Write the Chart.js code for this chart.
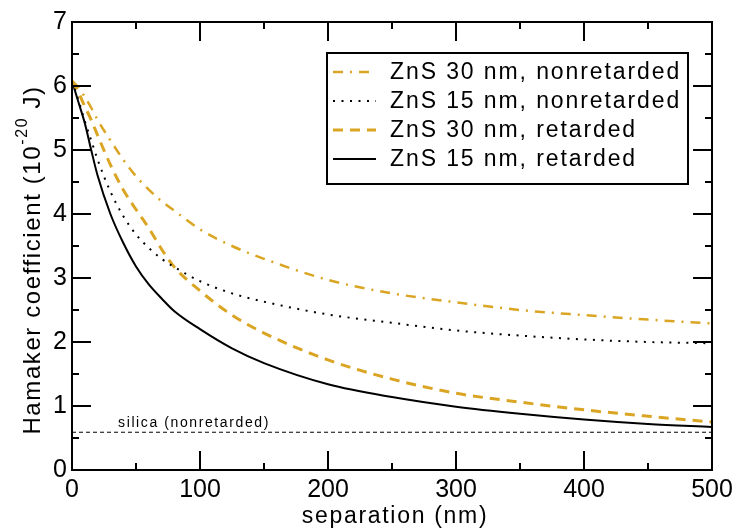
<!DOCTYPE html>
<html>
<head>
<meta charset="utf-8">
<script src="https://cdn.jsdelivr.net/npm/chart.js@4.4.0/dist/chart.umd.min.js"></script>
<style>
  html, body { margin: 0; padding: 0; background: #fff; }
</style>
</head>
<body>
<canvas id="hamakerChart" width="740" height="532"></canvas>
<script>
// separation in nm (shared x values for all curves)
const separation = [0, 5, 10, 15, 20, 30, 40, 50, 60, 70, 80, 100, 125, 150, 200, 250, 300, 350, 400, 450, 500];

// Hamaker coefficient, units of 1e-20 J
const zns30NonRet = [6.08, 5.98, 5.83, 5.66, 5.47, 5.15, 4.85, 4.59, 4.38, 4.2, 4.05, 3.76, 3.5, 3.3, 2.97, 2.76, 2.62, 2.5, 2.42, 2.35, 2.29];
const zns15NonRet = [6.08, 5.78, 5.45, 5.15, 4.85, 4.35, 3.97, 3.68, 3.47, 3.3, 3.17, 2.95, 2.76, 2.63, 2.43, 2.3, 2.18, 2.1, 2.04, 2.0, 1.98];
const zns30Ret = [6.08, 5.9, 5.68, 5.47, 5.23, 4.77, 4.38, 4.07, 3.78, 3.45, 3.17, 2.8, 2.42, 2.14, 1.72, 1.42, 1.2, 1.06, 0.94, 0.84, 0.75];
const zns15Ret = [6.08, 5.75, 5.42, 5.0, 4.6, 4.0, 3.55, 3.18, 2.9, 2.68, 2.48, 2.2, 1.9, 1.67, 1.34, 1.14, 0.99, 0.88, 0.79, 0.72, 0.67];

// silica reference level (nonretarded)
const silicaX = [0, 500];
const silicaY = [0.59, 0.59];

const seriesLabels = ['ZnS 30 nm, nonretarded', 'ZnS 15 nm, nonretarded', 'ZnS 30 nm, retarded', 'ZnS 15 nm, retarded'];
const silicaLabel = 'silica (nonretarded)';
const xTitle = 'separation (nm)';

const FONT = "'Liberation Sans', Arial, Helvetica, sans-serif";
const GOLD = 'rgb(219,165,36)';

function toPoints(xs, ys) {
    return xs.map((x, i) => ({ x: x, y: ys[i] }));
}

// box, inward ticks, legend and axis titles
const framePlugin = {
    id: 'frame',
    afterDatasetsDraw(chart) {
        const { ctx, chartArea: a, scales: { x, y } } = chart;
        ctx.save();
        ctx.strokeStyle = '#000';
        ctx.lineWidth = 2;
        ctx.setLineDash([]);
        ctx.strokeRect(a.left, a.top, a.right - a.left, a.bottom - a.top);

        ctx.beginPath();
        for (let v = 0; v <= 500; v += 50) {
            const px = Math.round(x.getPixelForValue(v));
            const len = v % 100 === 0 ? 19 : 7;
            ctx.moveTo(px, a.bottom); ctx.lineTo(px, a.bottom - len);
            ctx.moveTo(px, a.top); ctx.lineTo(px, a.top + len);
        }
        for (let v = 0; v <= 7; v += 0.5) {
            const py = Math.round(y.getPixelForValue(v));
            const len = v % 1 === 0 ? 19 : 7;
            ctx.moveTo(a.left, py); ctx.lineTo(a.left + len, py);
            ctx.moveTo(a.right, py); ctx.lineTo(a.right - len, py);
        }
        ctx.stroke();

        // silica label just above its line
        ctx.fillStyle = '#000';
        ctx.font = '14px ' + FONT;
        ctx.letterSpacing = '1.6px';
        ctx.textBaseline = 'alphabetic';
        ctx.textAlign = 'left';
        ctx.fillText(silicaLabel, x.getPixelForValue(36), y.getPixelForValue(silicaY[0]) - 5);

        // legend
        const box = { left: 327, top: 53, right: 688, bottom: 184 };
        ctx.lineWidth = 2;
        ctx.strokeRect(box.left, box.top, box.right - box.left, box.bottom - box.top);
        ctx.font = '23px ' + FONT;
        ctx.letterSpacing = '1.9px';
        ctx.textBaseline = 'middle';
        chart.data.datasets.forEach((ds, i) => {
            if (i >= seriesLabels.length) return;
            const rowY = 72 + i * 29;
            ctx.strokeStyle = ds.borderColor;
            ctx.lineWidth = ds.borderWidth;
            ctx.setLineDash(ds.borderDash || []);
            ctx.beginPath();
            ctx.moveTo(333, rowY);
            ctx.lineTo(376, rowY);
            ctx.stroke();
            ctx.setLineDash([]);
            ctx.fillText(ds.label, 390, rowY + 1);
        });

        // x title
        ctx.font = '23px ' + FONT;
        ctx.letterSpacing = '1.7px';
        ctx.textAlign = 'center';
        ctx.textBaseline = 'alphabetic';
        ctx.fillText(xTitle, 395, 523);

        // y title with superscript
        const mainFont = '24px ' + FONT;
        const supFont = '16px ' + FONT;
        const part1 = 'Hamaker coefficient (10';
        const part2 = '-20';
        const part3 = ' J)';
        ctx.letterSpacing = '1.6px';
        ctx.font = mainFont;
        const w1 = ctx.measureText(part1).width;
        const w3 = ctx.measureText(part3).width;
        ctx.font = supFont;
        const w2 = ctx.measureText(part2).width;
        const total = w1 + w2 + w3;
        ctx.translate(40, 260);
        ctx.rotate(-Math.PI / 2);
        ctx.textAlign = 'left';
        let cx = -total / 2;
        ctx.font = mainFont;
        ctx.fillText(part1, cx, 0);
        cx += w1;
        ctx.font = supFont;
        ctx.fillText(part2, cx, -13);
        cx += w2;
        ctx.font = mainFont;
        ctx.fillText(part3, cx, 0);
        ctx.restore();
    }
};

const ctx = document.getElementById('hamakerChart').getContext('2d');
const chart = new Chart(ctx, {
    type: 'line',
    data: {
        datasets: [
            {
                label: seriesLabels[0],
                data: toPoints(separation, zns30NonRet),
                borderColor: GOLD,
                borderWidth: 2.5,
                borderDash: [10, 7, 2, 7],
            },
            {
                label: seriesLabels[1],
                data: toPoints(separation, zns15NonRet),
                borderColor: '#000',
                borderWidth: 2,
                borderDash: [2, 6.5],
            },
            {
                label: seriesLabels[2],
                data: toPoints(separation, zns30Ret),
                borderColor: GOLD,
                borderWidth: 3,
                borderDash: [10, 7],
            },
            {
                label: seriesLabels[3],
                data: toPoints(separation, zns15Ret),
                borderColor: '#000',
                borderWidth: 2,
            },
            {
                label: silicaLabel,
                data: toPoints(silicaX, silicaY),
                borderColor: '#000',
                borderWidth: 1,
                borderDash: [4, 3],
            }
        ]
    },
    options: {
        responsive: false,
        animation: false,
        devicePixelRatio: 1,
        elements: {
            point: { radius: 0 },
            line: { cubicInterpolationMode: 'monotone', fill: false }
        },
        layout: { padding: { top: 22, right: 28, left: 0, bottom: 0 } },
        plugins: {
            legend: { display: false },
            tooltip: { enabled: false }
        },
        scales: {
            x: {
                type: 'linear',
                min: 0,
                max: 500,
                grid: { display: false, drawTicks: false },
                border: { display: false },
                ticks: {
                    stepSize: 100,
                    maxRotation: 0,
                    autoSkip: false,
                    padding: 5,
                    color: '#000',
                    font: { family: FONT, size: 25 }
                },
                afterFit(scale) { scale.height = 62; }
            },
            y: {
                min: 0,
                max: 7,
                grid: { display: false, drawTicks: false },
                border: { display: false },
                ticks: {
                    stepSize: 1,
                    autoSkip: false,
                    padding: 5,
                    color: '#000',
                    font: { family: FONT, size: 25 }
                },
                afterFit(scale) { scale.width = 72; }
            }
        }
    },
    plugins: [framePlugin]
});
</script>
</body>
</html>
